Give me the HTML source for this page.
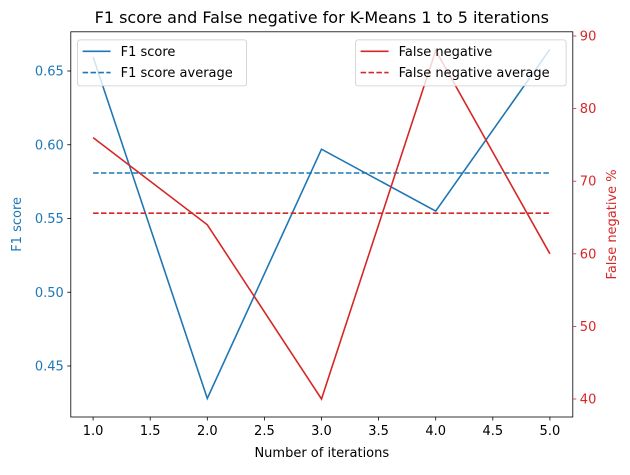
<!DOCTYPE html>
<html><head><meta charset="utf-8"><style>
body{margin:0;background:#fff;}
svg text{font-family:"DejaVu Sans","Liberation Sans",sans-serif;}
</style></head><body>
<svg id="chart" width="630" height="470" xmlns="http://www.w3.org/2000/svg">
<rect width="630" height="470" fill="#fff"/>
<g id="g"></g>
</svg>
<script>
const iterations=[1,2,3,4,5];
const f1Scores=[0.6595,0.428,0.597,0.555,0.6647];
const falseNegatives=[76,64,40,88,60];
const xTicks=[1.0,1.5,2.0,2.5,3.0,3.5,4.0,4.5,5.0];
const leftTicks=[0.45,0.50,0.55,0.60,0.65];
const rightTicks=[40,50,60,70,80,90];

const L=70.8,R=572.8,T=31.8,B=417;
const X=v=>93.1+(v-1)*(549.9-93.1)/4;
const YL=v=>366-(v-0.45)*1475;
const YR=v=>399-(v-40)*7.26;
const g=document.getElementById('g');
const NS='http://www.w3.org/2000/svg';
function mk(t,a,txt){const e=document.createElementNS(NS,t);for(const k in a)e.setAttribute(k,a[k]);if(txt!==undefined)e.textContent=txt;g.appendChild(e);return e;}
const blue='#1f77b4',red='#d62728';
const avg=a=>a.reduce((s,v)=>s+v,0)/a.length;
const FS='13px';

let e=mk('polyline',{points:iterations.map((x,i)=>X(x)+','+YL(f1Scores[i])).join(' '),fill:'none',stroke:blue,'stroke-width':1.6});

const fa=avg(f1Scores);
e=mk('line',{x1:X(1),x2:X(5),y1:YL(fa),y2:YL(fa),stroke:blue,'stroke-width':1.6,'stroke-dasharray':'5.5,2.4'});

e=mk('polyline',{points:iterations.map((x,i)=>X(x)+','+YR(falseNegatives[i])).join(' '),fill:'none',stroke:red,'stroke-width':1.6});

const na=avg(falseNegatives);
e=mk('line',{x1:X(1),x2:X(5),y1:YR(na),y2:YR(na),stroke:red,'stroke-width':1.6,'stroke-dasharray':'5.5,2.4'});


e=mk('rect',{x:L,y:T,width:R-L,height:B-T,fill:'none',stroke:'#000','stroke-width':0.8});


xTicks.forEach(v=>{mk('line',{x1:X(v),x2:X(v),y1:B,y2:B+3.5,stroke:'#000','stroke-width':0.8});
 const t=mk('text',{x:X(v),y:B+18,'text-anchor':'middle','font-size':FS},v.toFixed(1));
 });
leftTicks.forEach(v=>{mk('line',{x1:L-3.5,x2:L,y1:YL(v),y2:YL(v),stroke:'#000','stroke-width':0.8});
 const t=mk('text',{x:L-7,y:YL(v)+4.5,'text-anchor':'end','font-size':FS,fill:blue},v.toFixed(2));
 });
rightTicks.forEach(v=>{mk('line',{x1:R,x2:R+3.5,y1:YR(v),y2:YR(v),stroke:red,'stroke-width':0.8});
 const t=mk('text',{x:R+7,y:YR(v)+4.5,'text-anchor':'start','font-size':FS,fill:red},String(v));
 });

e=mk('text',{x:(L+R)/2,y:23,'text-anchor':'middle','font-size':'16px'},'F1 score and False negative for K-Means 1 to 5 iterations');

e=mk('text',{x:(L+R)/2,y:457,'text-anchor':'middle','font-size':FS},'Number of iterations');

e=mk('text',{x:0,y:0,'text-anchor':'middle','font-size':FS,fill:blue,transform:'translate(21,'+((T+B)/2)+') rotate(-90)'},'F1 score');

e=mk('text',{x:0,y:0,'text-anchor':'middle','font-size':FS,fill:red,transform:'translate(616,'+((T+B)/2)+') rotate(-90)'},'False negative %');


function legend(x,w,items,name){
 const r=mk('rect',{x:x,y:39.9,width:w,height:46,rx:2.5,fill:'#fff','fill-opacity':0.8,stroke:'#ccc','stroke-width':0.8});
 
 items.forEach((it,i)=>{const y=51.3+i*21.3;
  mk('line',{x1:x+5,x2:x+33,y1:y,y2:y,stroke:it[1],'stroke-width':1.6,'stroke-dasharray':it[2]?'5.5,2.4':'none'});
  const t=mk('text',{x:x+43,y:y+4.5,'font-size':FS},it[0]);
  });
}
legend(77.6,169,[['F1 score',blue,false],['F1 score average',blue,true]],'left-legend');
legend(355.6,210.5,[['False negative',red,false],['False negative average',red,true]],'right-legend');
</script>
</body></html>
